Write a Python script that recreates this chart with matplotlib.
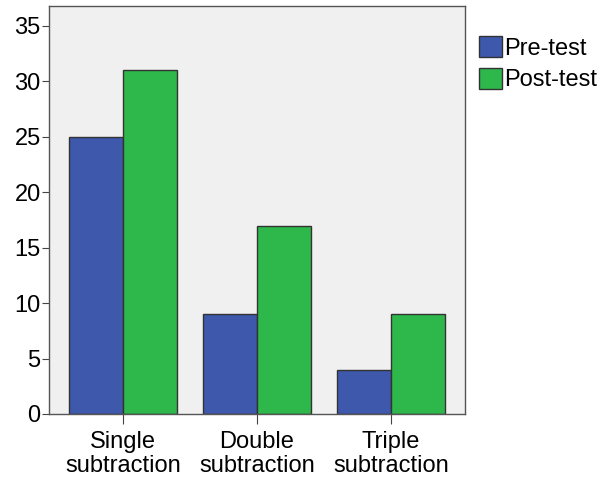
import numpy as np
import matplotlib.pyplot as plt

plt.rcParams['font.family'] = ['Liberation Sans', 'DejaVu Sans']

categories = ["Single\nsubtraction", "Double\nsubtraction", "Triple\nsubtraction"]
pre_test = [25, 9, 4]
post_test = [31, 17, 9]
yticks = [0, 5, 10, 15, 20, 25, 30, 35]

fig = plt.figure(figsize=(6.1, 4.78), dpi=100)
ax = fig.add_axes([0.0803, 0.1339, 0.682, 0.8535])
ax.set_facecolor('#F0F0F0')

x = np.arange(len(categories))
w = 0.4
ax.bar(x - w/2, pre_test, w, color='#3E58AC', edgecolor='#333333', linewidth=1, label='Pre-test')
ax.bar(x + w/2, post_test, w, color='#2EB84B', edgecolor='#333333', linewidth=1, label='Post-test')

ax.set_xlim(-0.552, 2.552)
ax.set_ylim(0, 36.8)
ax.set_yticks(yticks)
ax.set_xticks(x)
ax.set_xticklabels(categories, fontsize=17, linespacing=1.12)
ax.tick_params(axis='y', labelsize=17, length=5, color='#444444', pad=1)
ax.tick_params(axis='x', length=7, color='#444444', pad=5)
for s in ax.spines.values():
    s.set_color('#555555')
    s.set_linewidth(1)

ax.legend(loc='upper left', bbox_to_anchor=(1.01, 0.95), frameon=False, fontsize=17,
          handlelength=1.0, handleheight=1.0, handletextpad=0.1, labelspacing=0.35,
          borderaxespad=0)

fig.savefig('out.png', dpi=100)
